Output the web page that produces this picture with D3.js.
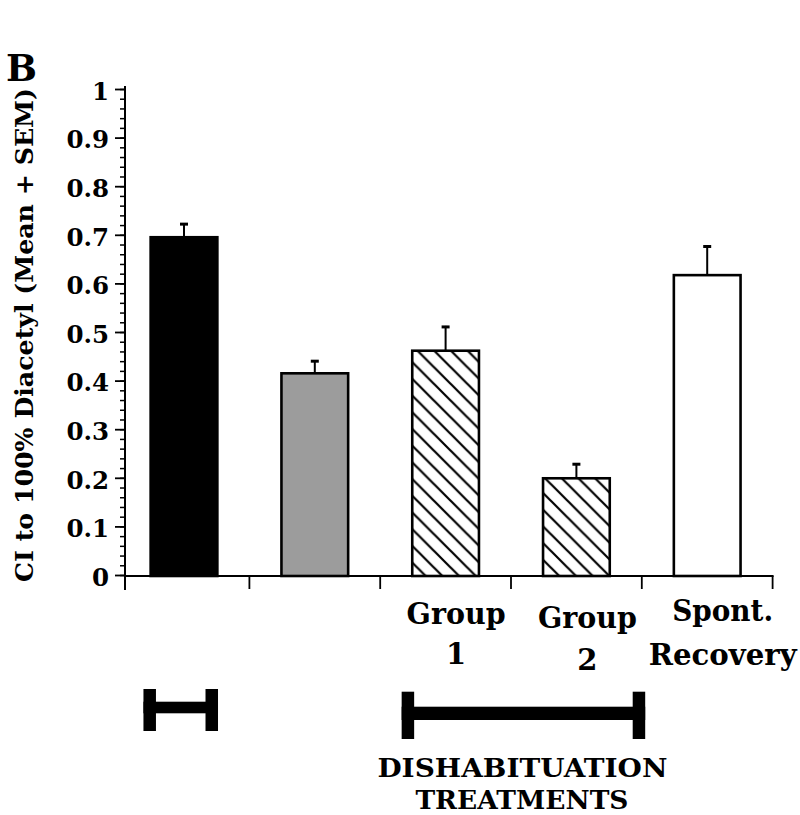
<!DOCTYPE html>
<html><head><meta charset="utf-8">
<script src="https://cdn.jsdelivr.net/npm/d3@7"></script>
<style>html,body{margin:0;padding:0;background:#fff;}svg{display:block;}
text{font-family:"DejaVu Serif",serif;font-weight:bold;fill:#000;}</style>
</head><body>
<script>
// ---- data ----
const categories = ["Habituated", "Habituated 2", "Group 1", "Group 2", "Spont. Recovery"];
const means = [0.695, 0.415, 0.4615, 0.199, 0.617];
const sems = [0.029, 0.027, 0.051, 0.031, 0.061];
const fills = ["black", "gray", "hatch", "hatch", "white"];
const xLabelLines = [[], [], ["Group", "1"], ["Group", "2"], ["Spont.", "Recovery"]];
const yTicks = [0, 0.1, 0.2, 0.3, 0.4, 0.5, 0.6, 0.7, 0.8, 0.9, 1];
const yTitle = "CI to 100% Diacetyl (Mean + SEM)";
const panelLabel = "B";
const bracketText = ["DISHABITUATION", "TREATMENTS"];

const W = 800, H = 815;
const svg = d3.select("body").append("svg").attr("width", W).attr("height", H);

const y = d3.scaleLinear().domain([0, 1]).range([575, 89]);
const x = d3.scaleBand().domain(categories).range([118.6, 772.6]).padding(0);
const bw = x.bandwidth();
const barW = bw * 0.51;
const cx = c => x(c) + bw / 2;
const axisX = 125;

// hatch pattern
const s = 16.7;
const defs = svg.append("defs");
const pat = defs.append("pattern").attr("id", "hatch").attr("patternUnits", "userSpaceOnUse")
  .attr("width", s).attr("height", s);
pat.append("rect").attr("width", s).attr("height", s).attr("fill", "white");
pat.append("path").attr("d", `M0,0 L${s},${s} M${-s/2},${s/2} L${s/2},${s*1.5} M${s/2},${-s/2} L${s*1.5},${s/2}`)
  .attr("stroke", "black").attr("stroke-width", 2.2);

const fillOf = f => f === "black" ? "#000" : f === "gray" ? "#9c9c9c" : f === "hatch" ? "url(#hatch)" : "#fff";

// bars
const g = svg.append("g");
categories.forEach((c, i) => {
  g.append("rect").attr("x", cx(c) - barW / 2).attr("y", y(means[i]))
    .attr("width", barW).attr("height", y(0) - y(means[i]) + 1)
    .attr("fill", fillOf(fills[i])).attr("stroke", "#000").attr("stroke-width", 2.6);
  // error bar
  g.append("line").attr("x1", cx(c)).attr("x2", cx(c))
    .attr("y1", y(means[i])).attr("y2", y(means[i] + sems[i]))
    .attr("stroke", "#000").attr("stroke-width", 2);
  g.append("line").attr("x1", cx(c) - 4).attr("x2", cx(c) + 4)
    .attr("y1", y(means[i] + sems[i]) + 1).attr("y2", y(means[i] + sems[i]) + 1)
    .attr("stroke", "#000").attr("stroke-width", 3);
});

// y axis
const yAxisG = svg.append("g").attr("transform", `translate(${axisX},0)`);
const minor = d3.range(0, 1.0001, 0.02);
yAxisG.call(d3.axisLeft(y).tickValues(minor).tickSize(5).tickFormat(""))
  .call(a => a.select(".domain").remove())
  .call(a => a.selectAll("line").attr("stroke-width", 1.5));
yAxisG.append("g").call(d3.axisLeft(y).tickValues(yTicks).tickSize(10).tickPadding(6)
    .tickFormat(d => d === 0 ? "0" : d === 1 ? "1" : d3.format(".1f")(d)))
  .call(a => a.select(".domain").remove())
  .call(a => a.selectAll("line").attr("stroke-width", 1.8))
  .call(a => a.selectAll("text").attr("font-size", 24.5).attr("font-family", "DejaVu Serif")
    .attr("font-weight", "bold").attr("dy", "0.42em").attr("x", -16));
svg.append("line").attr("x1", axisX).attr("x2", axisX).attr("y1", 86).attr("y2", y(0) + 15)
  .attr("stroke", "#000").attr("stroke-width", 2);

// x axis
const xAxisY = y(0) + 1;
svg.append("line").attr("x1", axisX - 1).attr("x2", x.range()[1] + 1).attr("y1", xAxisY).attr("y2", xAxisY)
  .attr("stroke", "#000").attr("stroke-width", 2);
categories.slice(1).forEach(c => {
  svg.append("line").attr("x1", x(c)).attr("x2", x(c)).attr("y1", xAxisY).attr("y2", xAxisY + 13)
    .attr("stroke", "#000").attr("stroke-width", 1.8);
});
svg.append("line").attr("x1", x.range()[1]).attr("x2", x.range()[1]).attr("y1", xAxisY).attr("y2", xAxisY + 13)
  .attr("stroke", "#000").attr("stroke-width", 1.8);

// x labels
const labelShift = [0, 0, 10.5, 11, 15.5];
const labelBase = [[0, 0], [0, 0], [624, 664], [628, 670], [621, 665]];
const labelWidths = { "Group": 99, "Spont.": 101, "Recovery": 148 };
categories.forEach((c, i) => {
  xLabelLines[i].forEach((t, j) => {
    const el = svg.append("text").attr("x", cx(c) + labelShift[i]).attr("y", labelBase[i][j])
      .attr("text-anchor", "middle").attr("font-size", 29).text(t);
    if (labelWidths[t]) el.attr("textLength", labelWidths[t]).attr("lengthAdjust", "spacingAndGlyphs");
  });
});

// y title
const yt = svg.append("text").attr("transform", "translate(33,335) rotate(-90)")
  .attr("text-anchor", "middle").attr("font-size", 24.5).text(yTitle);
yt.attr("textLength", 494).attr("lengthAdjust", "spacingAndGlyphs");

// panel label
svg.append("text").attr("x", 6).attr("y", 81).attr("font-size", 37).text(panelLabel)
  .attr("textLength", 31).attr("lengthAdjust", "spacingAndGlyphs");

// brackets
function bracket(x0, x1, yTop, yBot, barTop, barBot, vw) {
  const b = svg.append("g");
  b.append("rect").attr("x", x0).attr("y", yTop).attr("width", vw).attr("height", yBot - yTop);
  b.append("rect").attr("x", x1 - vw).attr("y", yTop).attr("width", vw).attr("height", yBot - yTop);
  b.append("rect").attr("x", x0).attr("y", barTop).attr("width", x1 - x0).attr("height", barBot - barTop);
  return b;
}
const c0 = categories[0];
bracket(x(c0) + bw * 0.19, x(c0) + bw * 0.76, 689, 731, 701.7, 713.3, 12.5);
const bx0 = x(categories[2]) + bw * 0.164, bx1 = x(categories[3]) + bw * 1.026;
bracket(bx0, bx1, 691.7, 739, 706.7, 720, 12.5);
const bcx = (bx0 + bx1) / 2;
svg.append("text").attr("x", bcx - 1).attr("y", 776.5).attr("text-anchor", "middle").attr("font-size", 26.5)
  .attr("textLength", 290).attr("lengthAdjust", "spacingAndGlyphs").text(bracketText[0]);
svg.append("text").attr("x", bcx - 1.5).attr("y", 808.5).attr("text-anchor", "middle").attr("font-size", 26.5)
  .attr("textLength", 213).attr("lengthAdjust", "spacingAndGlyphs").text(bracketText[1]);
</script>
</body></html>
